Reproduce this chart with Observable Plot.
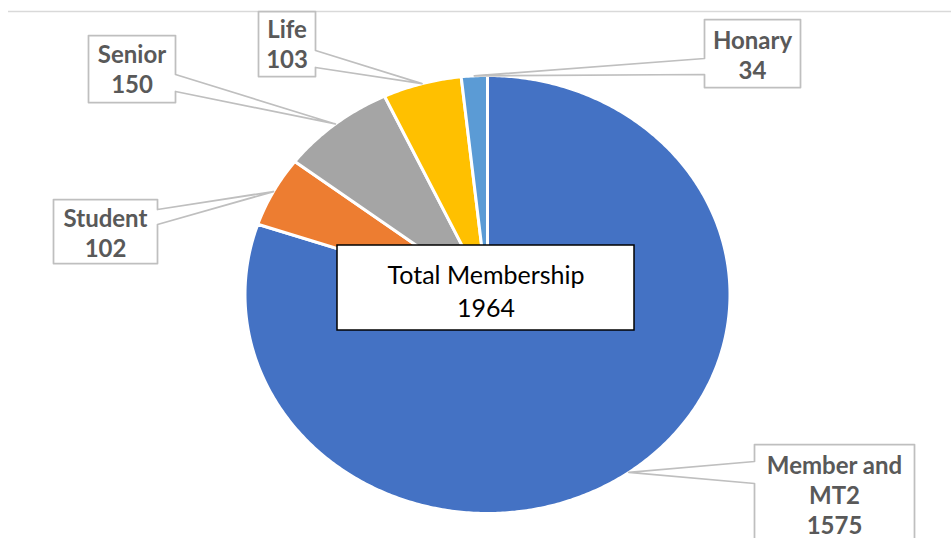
<!DOCTYPE html>
<html><head><meta charset="utf-8">
<script src="https://cdn.jsdelivr.net/npm/d3@7"></script>
<script src="https://cdn.jsdelivr.net/npm/@observablehq/plot@0.6"></script>
<style>html,body{margin:0;padding:0;background:#fff;overflow:hidden}</style>
</head><body><div id="chart"></div>
<script>
// ---- data ----
const categories = ["Member and MT2", "Student", "Senior", "Life", "Honary"];
const labelNames = ["Member and\nMT2", "Student", "Senior", "Life", "Honary"];
const values = [1575, 102, 150, 103, 34];
const colors = ["#4472C4", "#ED7D31", "#A5A5A5", "#FFC000", "#5B9BD5"];
const totalTitle = "Total Membership";
const total = d3.sum(values);

// ---- layout (pixels) ----
const W = 951, H = 538;
const cx = 487, cy = 294, rx = 242.5, ry = 219;
const X = p => (p - cx) / rx;      // pixel -> data units
const Y = p => (cy - p) / ry;
const callouts = [
  {box: [754, 444, 914, 600], side: "left",  attach: [461, 483], tx: 834, ty: 494},
  {box: [53, 199, 157, 263],  side: "right", attach: [209, 224], tx: 105, ty: 232},
  {box: [88, 35, 175, 102],   side: "right", attach: [74, 91],   tx: 131.5, ty: 68},
  {box: [258, 11, 315, 76],   side: "right", attach: [50, 67],   tx: 286.5, ty: 43},
  {box: [704, 19, 800, 87],   side: "left",  attach: [58, 74],   tx: 752, ty: 54}
];
const totalBox = [337, 245, 634, 330];

// ---- geometry from data ----
const arcs = d3.pie().sort(null).value(d => d)(values);
const slices = [];
arcs.forEach((a, i) => {
  const n = Math.max(4, Math.ceil((a.endAngle - a.startAngle) / 0.01));
  slices.push({cat: categories[i], x: 0, y: 0});
  for (let k = 0; k <= n; k++) {
    const t = a.startAngle + (a.endAngle - a.startAngle) * k / n;
    slices.push({cat: categories[i], x: Math.sin(t), y: Math.cos(t)});
  }
  slices.push({cat: categories[i], x: 0, y: 0});
});

const calloutPts = [];
arcs.forEach((a, i) => {
  const c = callouts[i];
  const mid = (a.startAngle + a.endAngle) / 2;
  const tip = {x: Math.sin(mid) * 1.0, y: Math.cos(mid) * 1.0};
  const [x1, y1, x2, y2] = c.box;
  let pts;
  if (c.side === "left") {
    pts = [[x1, y1], [x2, y1], [x2, y2], [x1, y2], [x1, c.attach[1]], null, [x1, c.attach[0]], [x1, y1]];
  } else {
    pts = [[x1, y1], [x2, y1], [x2, c.attach[0]], null, [x2, c.attach[1]], [x2, y2], [x1, y2], [x1, y1]];
  }
  pts.forEach(p => calloutPts.push(p ? {cat: categories[i], x: X(p[0]), y: Y(p[1])} : {cat: categories[i], ...tip}));
});

const labels = categories.map((c, i) => ({
  x: X(callouts[i].tx), y: Y(callouts[i].ty), text: `${labelNames[i]}\n${values[i]}`
}));

const font = "Lato, 'Open Sans', sans-serif";
const chart = Plot.plot({
  width: W, height: H,
  margin: 0,
  x: {domain: [-1, 1], range: [cx - rx, cx + rx], axis: null},
  y: {domain: [-1, 1], range: [cy + ry, cy - ry], axis: null},
  color: {domain: categories, range: colors},
  style: {fontFamily: font, background: "white"},
  marks: [
    Plot.ruleY([Y(11)], {x1: X(8), x2: X(W + 5), stroke: "#D9D9D9", strokeWidth: 1.5}),
    Plot.line(slices, {x: "x", y: "y", z: "cat", fill: "cat", stroke: "white", strokeWidth: 3, strokeLinejoin: "round", curve: "linear"}),
    Plot.line(calloutPts, {x: "x", y: "y", z: "cat", fill: "white", stroke: "#BFBFBF", strokeWidth: 1.75, curve: "linear"}),
    Plot.text(labels, {x: "x", y: "y", text: "text", fontSize: 24, fontWeight: "bold", fill: "#595959", lineHeight: 30 / 24, fontFamily: font}),
    Plot.rect([{}], {x1: X(totalBox[0]), x2: X(totalBox[2]), y1: Y(totalBox[1]), y2: Y(totalBox[3]), fill: "white", stroke: "black", strokeWidth: 1.5}),
    Plot.text([`${totalTitle}\n${total}`], {x: X((totalBox[0] + totalBox[2]) / 2), y: Y(289.5), text: d => d, fontSize: 25, fill: "black", lineHeight: 33 / 25, fontFamily: font})
  ]
});
document.getElementById("chart").appendChild(chart);
</script>
</body></html>
